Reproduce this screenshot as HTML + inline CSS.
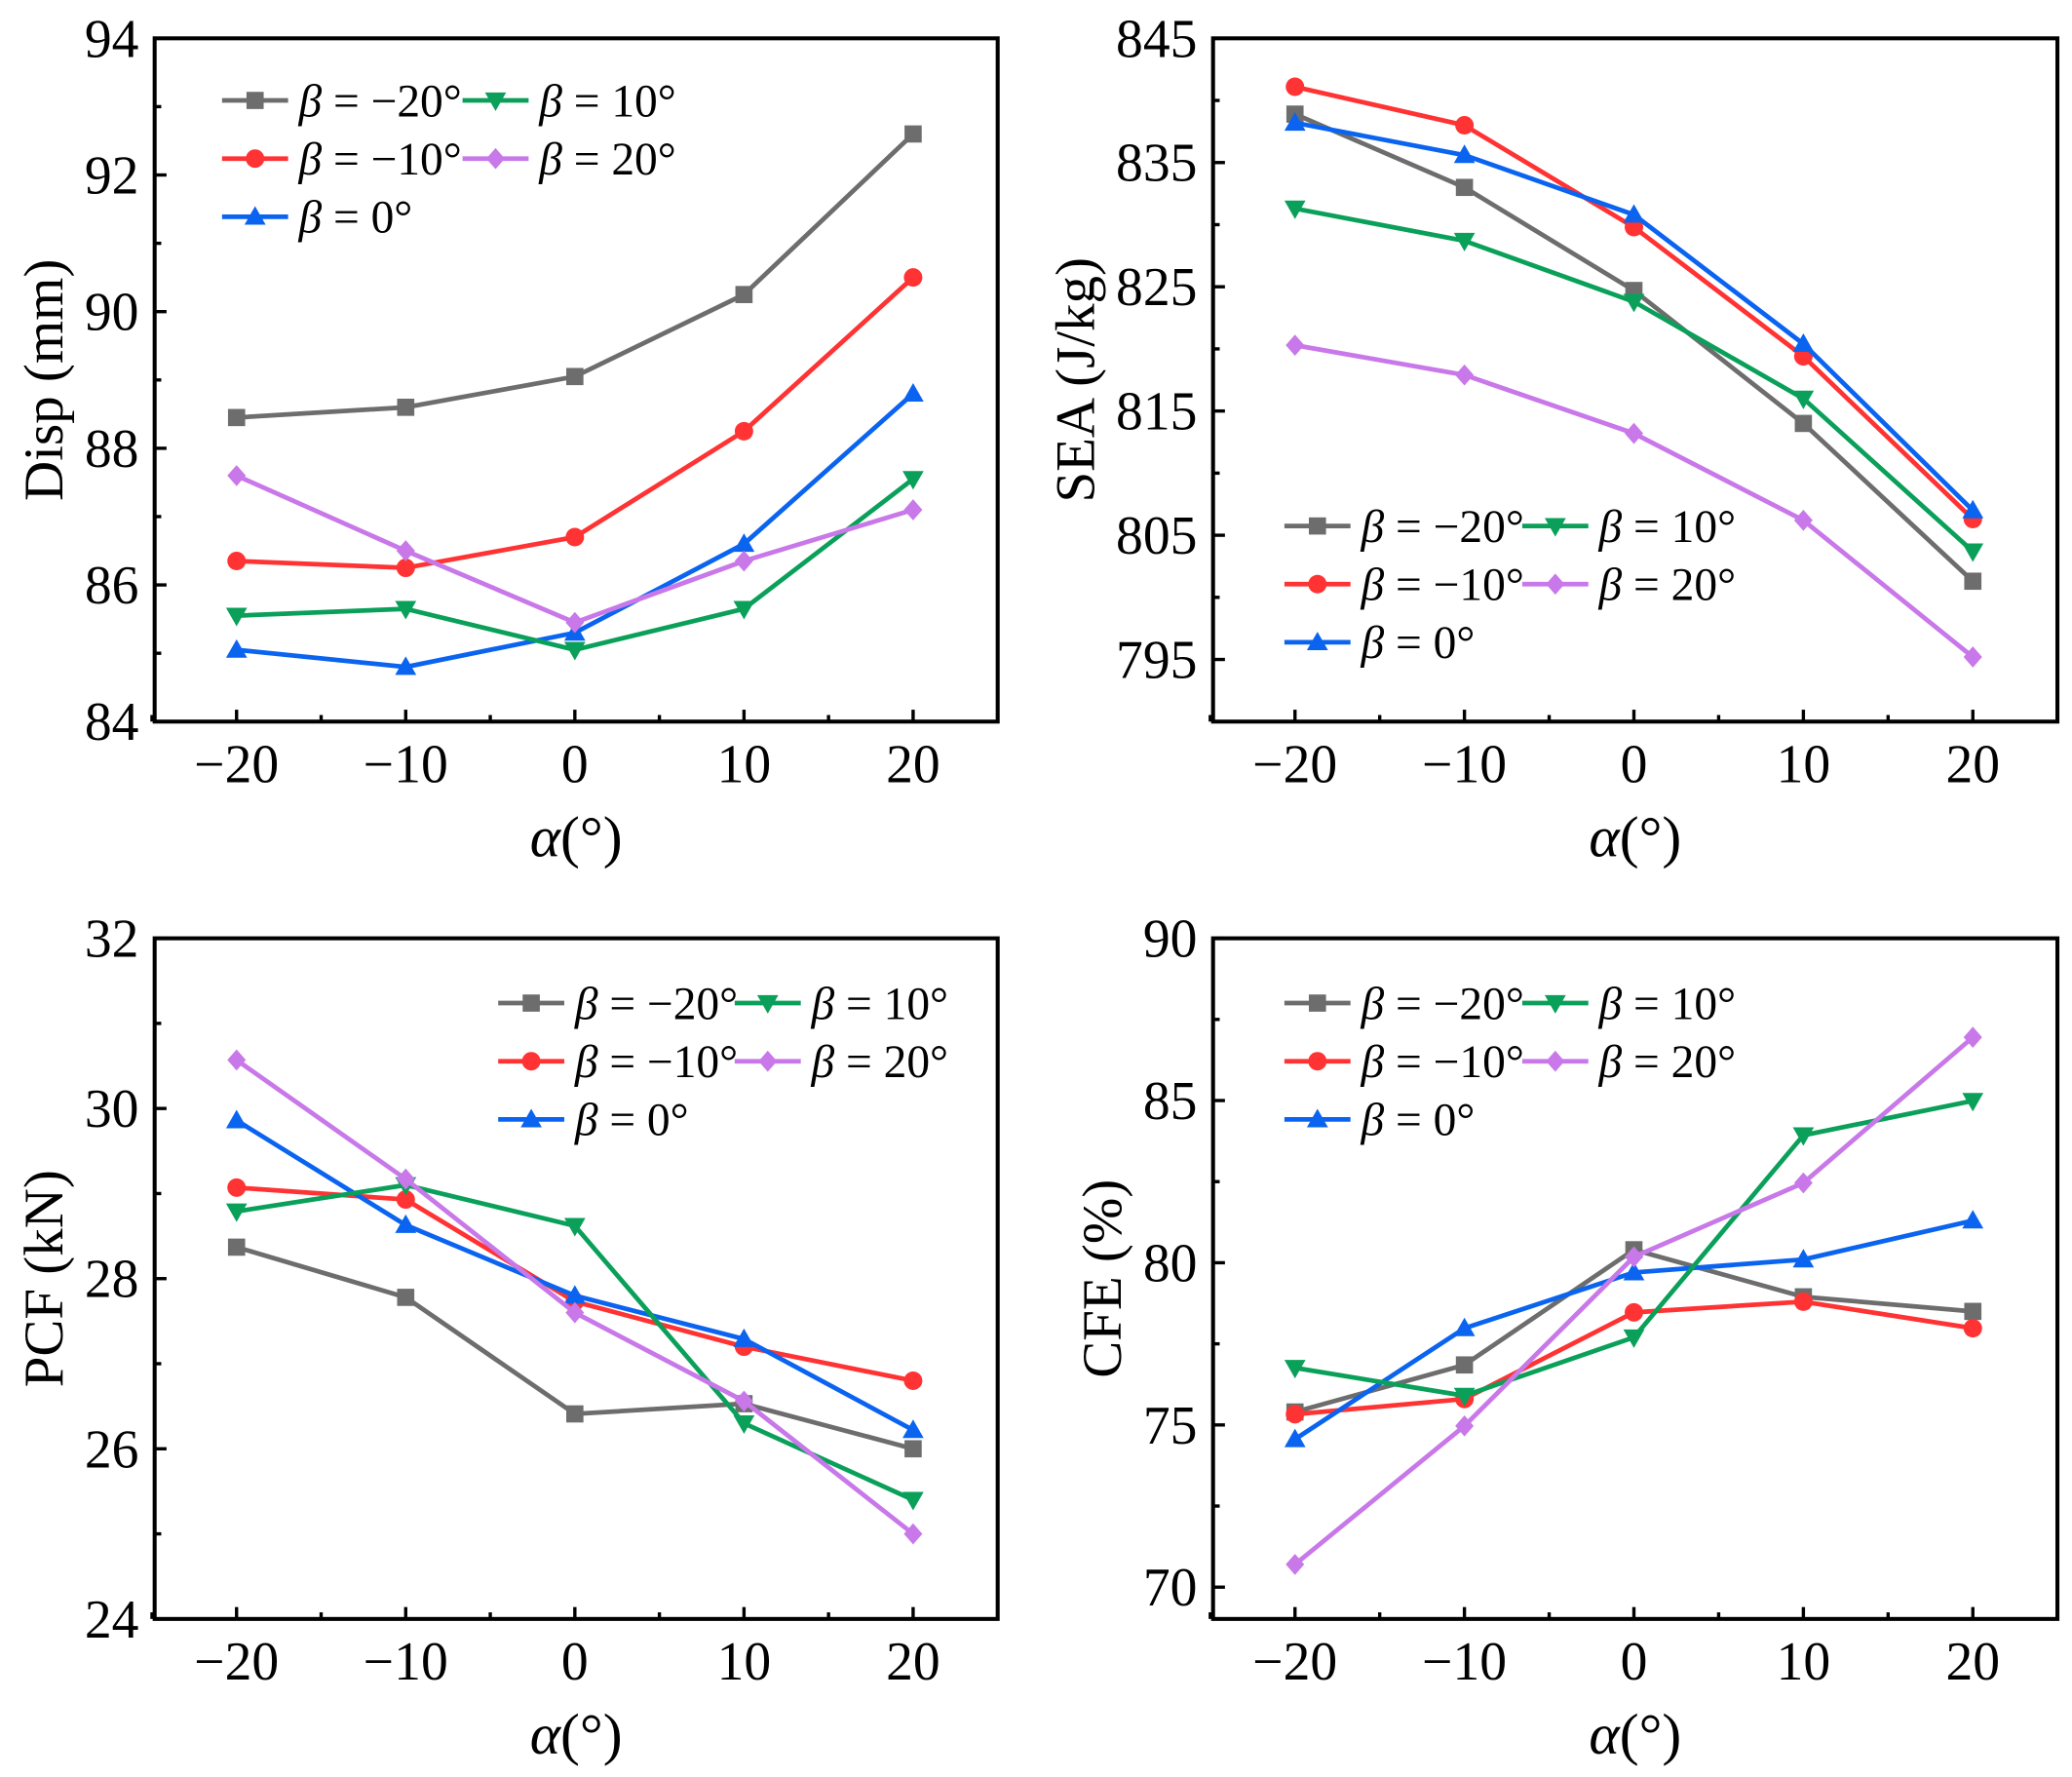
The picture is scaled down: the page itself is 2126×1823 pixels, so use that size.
<!DOCTYPE html>
<html><head><meta charset="utf-8"><style>
html,body{margin:0;padding:0;background:#fff}
svg{display:block}
svg text{font-family:'Liberation Serif','Times New Roman',serif;fill:#000}
</style></head><body>
<svg id="fig" width="2126" height="1823" viewBox="0 0 1568 1344.6" font-family="Liberation Serif, Times New Roman, serif" xmlns="http://www.w3.org/2000/svg"></svg>
<script>
const alphas = [-20, -10, 0, 10, 20];
const seriesNames = ["β = −20°", "β = −10°", "β = 0°", "β = 10°", "β = 20°"];
const colors = ["#6d6d6d", "#ff3333", "#0a64f0", "#0aa05a", "#c878e8"];
const markers = ["square", "circle", "tri-up", "tri-down", "diamond"];
// Disp (mm)
const dispGray = [88.45, 88.6, 89.05, 90.25, 92.6];
const dispRed = [86.35, 86.25, 86.7, 88.25, 90.5];
const dispBlue = [85.05, 84.8, 85.3, 86.6, 88.8];
const dispGreen = [85.55, 85.65, 85.05, 85.65, 87.55];
const dispPurple = [87.6, 86.5, 85.45, 86.35, 87.1];
// SEA (J/kg)
const seaGray = [838.9, 833.0, 824.7, 814.0, 801.3];
const seaRed = [841.1, 838.0, 829.8, 819.4, 806.3];
const seaBlue = [838.2, 835.6, 830.8, 820.4, 807.0];
const seaGreen = [831.3, 828.7, 823.8, 816.0, 803.7];
const seaPurple = [820.3, 817.9, 813.2, 806.2, 795.2];
// PCF (kN)
const pcfGray = [28.37, 27.78, 26.41, 26.53, 26.0];
const pcfRed = [29.07, 28.93, 27.73, 27.2, 26.8];
const pcfBlue = [29.86, 28.63, 27.8, 27.29, 26.22];
const pcfGreen = [28.79, 29.1, 28.62, 26.3, 25.4];
const pcfPurple = [30.57, 29.17, 27.6, 26.56, 25.0];
// CFE (%)
const cfeGray = [75.4, 76.85, 80.4, 78.95, 78.5];
const cfeRed = [75.33, 75.8, 78.47, 78.8, 77.98];
const cfeBlue = [74.56, 77.98, 79.7, 80.1, 81.3];
const cfeGreen = [76.76, 75.9, 77.7, 83.93, 84.99];
const cfePurple = [70.7, 74.97, 80.18, 82.46, 86.95];
const xTicks = [-20, -10, 0, 10, 20];
const dispTicks = [84, 86, 88, 90, 92, 94];
const seaTicks = [795, 805, 815, 825, 835, 845];
const pcfTicks = [24, 26, 28, 30, 32];
const cfeTicks = [70, 75, 80, 85, 90];

const NS = "http://www.w3.org/2000/svg";
const svg = document.getElementById("fig");
function mk(tag, attrs, parent) {
  const e = document.createElementNS(NS, tag);
  for (const k in attrs) e.setAttribute(k, attrs[k]);
  (parent || svg).appendChild(e);
  return e;
}
function marker(g, type, x, y, c) {
  let e;
  const s = 6.5;
  if (type === "square") e = mk("rect", {x: x - s, y: y - s, width: 2 * s, height: 2 * s, fill: c}, g);
  else if (type === "circle") e = mk("circle", {cx: x, cy: y, r: 7, fill: c}, g);
  else if (type === "tri-up") e = mk("polygon", {points: `${x},${y - 8} ${x - 8},${y + 6} ${x + 8},${y + 6}`, fill: c}, g);
  else if (type === "tri-down") e = mk("polygon", {points: `${x},${y + 8} ${x - 8},${y - 6} ${x + 8},${y - 6}`, fill: c}, g);
  else e = mk("polygon", {points: `${x},${y - 8} ${x + 7},${y} ${x},${y + 8} ${x - 7},${y}`, fill: c}, g);
  
  
}
const FF = "Liberation Serif, Times New Roman, serif";

const panels = [
  {name: "disp", L: 117, R: 755, T: 29, B: 546, ymin: 84, ymax: 94, ticks: dispTicks, minor: 1, title: "Disp (mm)", tx: 33, series: [dispGray, dispRed, dispBlue, dispGreen, dispPurple], leg: [168, 76, 350]},
  {name: "sea", L: 918, R: 1557, T: 29, B: 546, ymin: 790, ymax: 845, ticks: seaTicks, minor: 5, title: "SEA (J/kg)", tx: 814, series: [seaGray, seaRed, seaBlue, seaGreen, seaPurple], leg: [972, 398, 1152]},
  {name: "pcf", L: 117, R: 755, T: 710, B: 1225, ymin: 24, ymax: 32, ticks: pcfTicks, minor: 1, title: "PCF (kN)", tx: 33, series: [pcfGray, pcfRed, pcfBlue, pcfGreen, pcfPurple], leg: [377, 759, 556]},
  {name: "cfe", L: 918, R: 1557, T: 710, B: 1225, ymin: 69.02, ymax: 90, ticks: cfeTicks, minor: 2.5, title: "CFE (%)", tx: 834, series: [cfeGray, cfeRed, cfeBlue, cfeGreen, cfePurple], leg: [972, 759, 1152]}
];

panels.forEach(p => {
  const g = mk("g", {"font-family": FF});
  
  
  const x0 = p.L + 62, x1 = p.R - 64;
  const sx = v => x0 + (v - (-20)) / 40 * (x1 - x0);
  const sy = v => p.B - (v - p.ymin) / (p.ymax - p.ymin) * (p.B - p.T);
  p.series.forEach((arr, i) => {
    const sg = mk("g", {}, g);
    
    
    mk("polyline", {points: arr.map((v, j) => sx(alphas[j]) + "," + sy(v)).join(" "), fill: "none", stroke: colors[i], "stroke-width": 3.5}, sg);
    arr.forEach((v, j) => marker(sg, markers[i], sx(alphas[j]), sy(v), colors[i]));
  });
  const fr = mk("rect", {x: p.L, y: p.T, width: p.R - p.L, height: p.B - p.T, fill: "none", stroke: "#000", "stroke-width": 3}, g);
  
  
  for (let v = Math.ceil(p.ymin / p.minor) * p.minor; v <= p.ymax + 1e-6; v += p.minor) {
    const y = sy(v);
    const major = p.ticks.some(t => Math.abs(t - v) < 1e-6);
    mk("line", {x1: p.L, x2: p.L + (major ? 9 : 5), y1: y, y2: y, stroke: "#000", "stroke-width": 2.5}, g);
  }
  p.ticks.forEach(t => {
    const e = mk("text", {x: p.L - 12, y: sy(t) + 14, "text-anchor": "end", "font-size": 41, "font-family": FF}, g);
    e.textContent = t;
    
    
  });
  for (let v = -25; v <= 25; v += 5) {
    const major = xTicks.includes(v);
    mk("line", {x1: sx(v), x2: sx(v), y1: p.B, y2: p.B - (major ? 9 : 5), stroke: "#000", "stroke-width": 2.5}, g);
  }
  xTicks.forEach(t => {
    const e = mk("text", {x: sx(t), y: p.B + 46, "text-anchor": "middle", "font-size": 41, "font-family": FF}, g);
    e.textContent = t < 0 ? "−" + Math.abs(t) : t;
    
    
  });
  const xt = mk("text", {x: (p.L + p.R) / 2, y: p.B + 102, "text-anchor": "middle", "font-size": 44, "font-family": FF}, g);
  xt.innerHTML = '<tspan font-style="italic">α</tspan>(°)';
  
  
  const cy = (p.T + p.B) / 2, cx = p.tx;
  const yt = mk("text", {x: cx, y: cy + 14, "text-anchor": "middle", "font-size": 42, "font-family": FF, transform: `rotate(-90 ${cx} ${cy})`}, g);
  yt.textContent = p.title;
  
  
  const [lx, ly, lx2] = p.leg;
  const pos = [[lx, ly], [lx, ly + 44], [lx, ly + 88], [lx2, ly], [lx2, ly + 44]];
  [0, 1, 2, 3, 4].forEach(i => {
    const lg = mk("g", {}, g);
    
    
    const [x, y] = pos[i];
    mk("line", {x1: x, x2: x + 50, y1: y, y2: y, stroke: colors[i], "stroke-width": 3.5}, lg);
    marker(lg, markers[i], x + 25, y, colors[i]);
    const t = mk("text", {x: x + 58, y: y + 12, "font-size": 35, "font-family": FF}, lg);
    t.innerHTML = '<tspan font-style="italic">β</tspan>' + seriesNames[i].slice(1);
  });
});
</script>
</body></html>
